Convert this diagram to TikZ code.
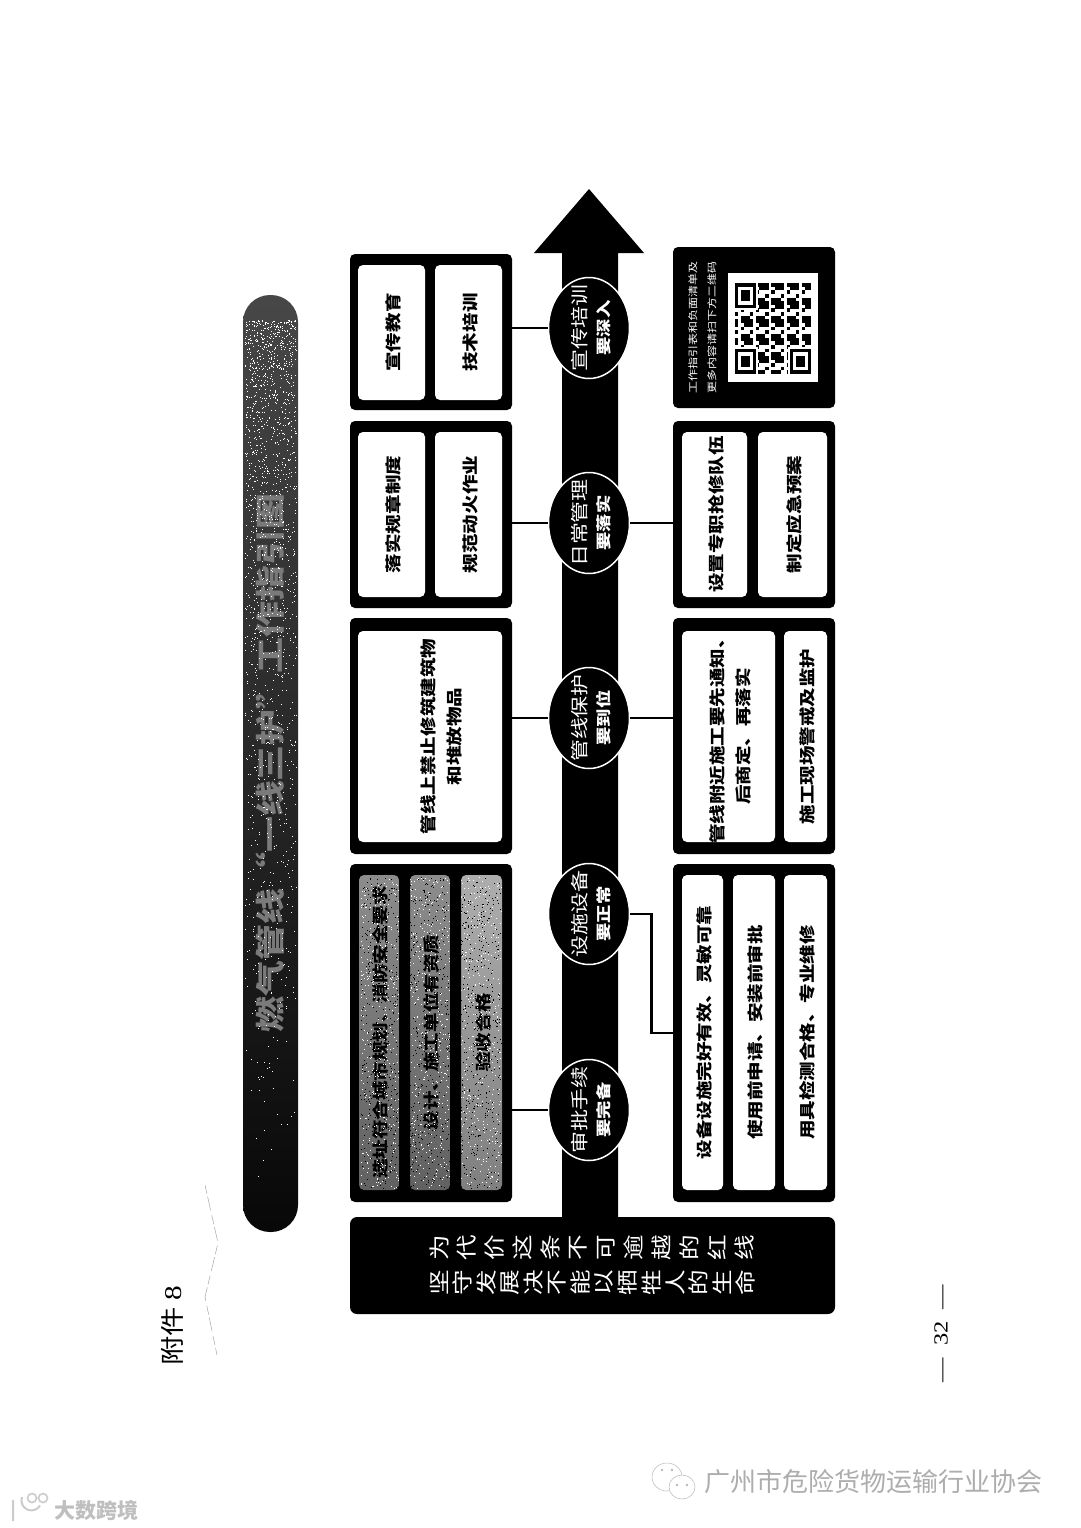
\documentclass[tikz,border=0pt]{standalone}
\usepackage{fontspec}
\setmainfont{Noto Sans CJK SC}
\newfontfamily\numfont{Liberation Serif}
\usetikzlibrary{shapes.geometric}
\tikzset{
  uptext/.style={cm={0,1.22,-1,0,(0,0)},inner sep=0pt,align=center},
  panel/.style={fill=black,rounded corners=5pt,inner sep=0pt},
  tile/.style={fill=white,rounded corners=5pt,inner sep=0pt},
  graytile/.style={rounded corners=5pt,inner sep=0pt,top color=black!45,bottom color=black!62},
  graytilec/.style={rounded corners=5pt,inner sep=0pt,top color=black!32,bottom color=black!50},
  tiletext/.style={uptext,font=\fontsize{16}{26}\selectfont\bfseries},
  ring/.style={ellipse,fill=black,draw=white,line width=1.5pt,minimum width=81pt,minimum height=101pt,inner sep=0pt},
  ringtop/.style={uptext,text=white,font=\fontsize{18}{18}\selectfont},
  ringsub/.style={uptext,text=white,font=\fontsize{15}{15}\selectfont\bfseries},
  link/.style={line width=2.6pt},
  barchar/.style={uptext,text=white,font=\fontsize{21}{21}\selectfont},
  wmline/.style={draw=black!28,line width=.5pt},
}
\begin{document}
\begin{tikzpicture}[x=1pt,y=-1pt]
\useasboundingbox (0,0) rectangle (1080,1528);
\fill[white] (0,0) rectangle (1080,1528);
\pgfmathsetseed{8}
\node[rounded corners=27pt,top color=black!72,bottom color=black!97,minimum width=55pt,minimum height=937pt,inner sep=0pt] (titlebar) at (270.5,763.5) {};
\node[uptext,text=black!52,font=\fontsize{29.5}{29.5}\selectfont\bfseries] (titletext) at (270,763) {燃气管线“一线三护”工作指引图};
\foreach \k in {1,...,1500}
  \fill[white] ({245+rnd*51},{320+rnd*rnd*880}) rectangle ++(1,1);
\fill (562,1230) -- (562,253) -- (534,253) -- (589,189) -- (644,253) -- (618,253) -- (618,1230) -- cycle;
\node[panel,rounded corners=7pt,minimum width=485pt,minimum height=97pt] (banner) at (592.5,1265.5) {};
\foreach \ch [count=\k] in {为,代,价,这,条,不,可,逾,越,的,红,线}
  \node[barchar] (bara\k) at ({439+(\k-1)*27.8},1248) {\ch};
\foreach \ch [count=\k] in {坚,守,发,展,决,不,能,以,牺,牲,人,的,生,命}
  \node[barchar] (barb\k) at ({439+(\k-1)*23.6},1283) {\ch};
\foreach \nm/\x/\y/\h in {panelEl/431/332/156,panelEr/754/327.5/161,panelDl/431/514.5/187,panelDr/754/514.5/187,panelCl/431/736/236,panelCr/754/736/236,panelBl/431/1033/338,panelBr/754/1033/338}
  \node[panel,minimum width=162pt,minimum height=\h pt] (\nm) at (\x,\y) {};
\foreach \nm/\st/\x/\y/\w/\h/\txt in {
  tileEa/tile/391.5/332.5/67/135/宣传教育,
  tileEb/tile/468.5/332.5/67/135/技术培训,
  tileDa/tile/391.5/514.5/67/165/落实规章制度,
  tileDb/tile/468.5/514.5/67/165/规范动火作业,
  tileDc/tile/714.5/514.5/65/165/设置专职抢修队伍,
  tileDd/tile/792.5/514.5/69/165/制定应急预案,
  tileCb/tile/728.5/736.5/93/211/{管线附近施工要先通知、\\后商定、再落实},
  tileCc/tile/805.5/736.5/43/211/施工现场警戒及监护,
  tileBa/graytile/379/1032.5/40/315/选址符合城市规划、消防安全要求,
  tileBb/graytile/430/1032.5/40/315/设计、施工单位有资质,
  tileBc/graytilec/481.5/1032.5/41/315/验收合格,
  tileBd/tile/702.5/1032.5/41/315/设备设施完好有效、灵敏可靠,
  tileBe/tile/754/1032.5/42/315/使用前申请、安装前审批,
  tileBf/tile/805.5/1032.5/43/315/用具检测合格、专业维修}
{
  \node[\st,minimum width=\w pt,minimum height=\h pt] (\nm) at (\x,\y) {};
  \node[tiletext] (\nm-t) at ([xshift=1.5pt]\nm.center) {\txt};
}
\foreach \k in {1,...,1500}
{
  \fill[white] ({360+rnd*141},{877+rnd*311}) rectangle ++(1,1);
  \fill[black] ({360+rnd*141},{877+rnd*311}) rectangle ++(1,1);
}
\fill[black] (399,875) rectangle (410,1190) (450,875) rectangle (461,1190);
\node[tile,minimum width=144pt,minimum height=211pt] (tileCa) at (430,736.5) {};
\node[tiletext] (tileCa-t) at (441.5,736.5) {管线上禁止修筑建筑物\\和堆放物品};
\foreach \nm/\y/\la/\lb in {ringE/328/宣传培训/要深入,ringD/523/日常管理/要落实,ringC/718/管线保护/要到位,ringB/914/设施设备/要正常,ringA/1110/审批手续/要完备}
{
  \node[ring] (\nm) at (589,\y) {};
  \node[ringtop] (\nm-a) at (580,\y) {\la};
  \node[ringsub] (\nm-b) at (604,\y) {\lb};
}
\draw[link] (ringE.west) -- (ringE.west -| panelEl.east);
\draw[link] (ringD.west) -- (ringD.west -| panelDl.east);
\draw[link] (ringD.east) -- (ringD.east -| panelDr.west);
\draw[link] (ringC.west) -- (ringC.west -| panelCl.east);
\draw[link] (ringC.east) -- (ringC.east -| panelCr.west);
\draw[link] (ringA.west) -- (ringA.west -| panelBl.east);
\draw[link] (ringB.east) -- ++(21,0) |- (panelBr.west);
\node[uptext,text=white,font=\fontsize{9.8}{19}\selectfont] (qrtext) at (702.5,327.5) {工作指引表和负面清单及\\更多内容请扫下方二维码};
\node[fill=white,minimum width=90pt,minimum height=109pt,inner sep=0pt] (qrbox) at (773,327.5) {};
\begin{scope}[shift={(735,283)},x=3.04pt,y=-3.64pt]
\foreach \i in {0,...,24}
  \foreach \j in {0,...,24}
  {
    \pgfmathtruncatemacro\on{mod(\i*\i*7+\j*\j*5+\i*\j*3+\i+2*\j,5)<3}
    \ifnum\on=1 \fill (\i,\j) rectangle ++(1.02,1.02); \fi
  }
\foreach \fx/\fy in {0/0,0/18,18/18}
{
  \fill[white] (\fx-0.5,\fy-0.5) rectangle ++(8,8);
  \fill (\fx,\fy) rectangle ++(7,7);
  \fill[white] (\fx+1,\fy+1) rectangle ++(5,5);
  \fill (\fx+2,\fy+2) rectangle ++(3,3);
}
\end{scope}
\node[uptext,font=\fontsize{24}{24}\selectfont] (annex) at (172,1326) {附件 {\numfont 8}};
\node[uptext,font=\fontsize{20}{20}\selectfont\numfont] (pagenum) at (941,1333.5) {—\hspace{10pt}32\hspace{10pt}—};
\draw[draw=black!35,line width=.5pt,dash pattern=on 9pt off 3pt on 14pt off 5pt] (205,1185) -- (218,1243) -- (205,1297) -- (217,1355);
\node[text=black!32,font=\fontsize{26}{26}\selectfont] (wmright) at (873,1482) {广州市危险货物运输行业协会};
\draw[wmline] (667,1477) ellipse (15pt and 14pt);
\draw[wmline,fill=white] (682,1487) ellipse (13pt and 12pt);
\fill[black!28] (662,1470) circle (1.3pt) (672,1470) circle (1.3pt) (677,1485) circle (1.3pt) (687,1485) circle (1.3pt);
\node[text=black!25,font=\fontsize{21}{21}\selectfont\bfseries] (wmleft) at (96,1510) {大数跨境};
\draw[wmline,line width=2pt,black!20] (13,1500) -- (13,1521) (22,1497) arc[start angle=160,end angle=330,radius=10pt];
\draw[wmline,line width=1.6pt,black!20] (32,1498) circle (4.5pt) (43,1498) circle (4.5pt);
\end{tikzpicture}
\end{document}
